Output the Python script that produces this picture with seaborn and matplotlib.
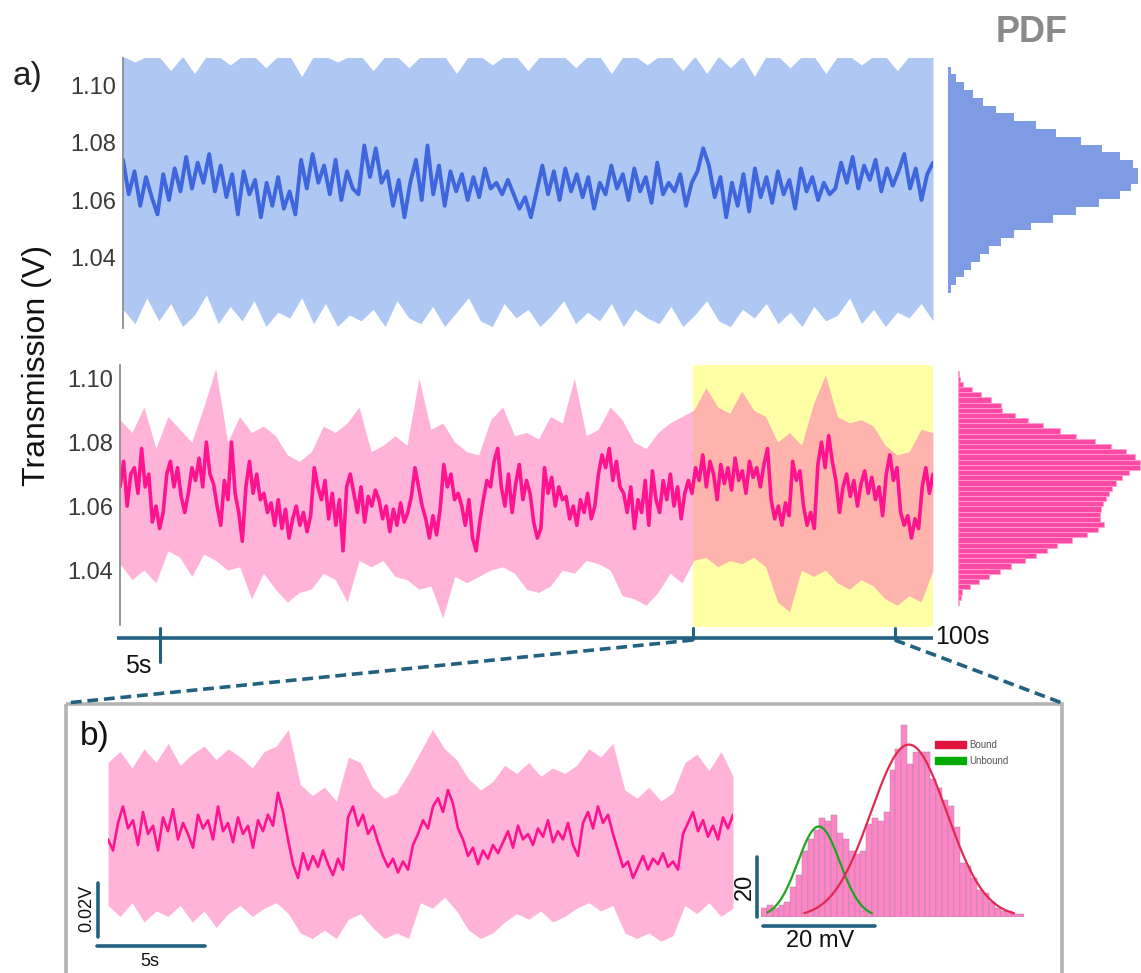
import numpy as np
import pandas as pd
import matplotlib
matplotlib.use("Agg")
import matplotlib.pyplot as plt
from matplotlib.patches import Patch, Rectangle
import seaborn as sns

sns.set_theme(style="white")
plt.rcParams['font.family'] = ['Liberation Sans', 'DejaVu Sans']

# ---------------- data ----------------
# a) top trace (blue), smoothed signal, volts, 0..100 s
blue_trace = [
    1.074, 1.062, 1.070, 1.058, 1.068, 1.061, 1.055,
    1.069, 1.060, 1.071, 1.063,
    1.075, 1.064, 1.073, 1.066, 1.076, 1.063, 1.072,
    1.061, 1.069, 1.055, 1.070, 1.062, 1.067,
    1.054, 1.066, 1.058, 1.068, 1.057, 1.063, 1.055,
    1.074, 1.064, 1.076, 1.066,
    1.072, 1.062, 1.074, 1.060, 1.070, 1.064, 1.062,
    1.079, 1.068, 1.078, 1.066,
    1.070, 1.058, 1.067, 1.054,
    1.066, 1.074, 1.060, 1.079, 1.062, 1.072, 1.058, 1.070,
    1.063, 1.069, 1.060, 1.068, 1.061, 1.071, 1.064, 1.066, 1.062, 1.067,
    1.062, 1.057, 1.061, 1.054, 1.063,
    1.072, 1.062, 1.070, 1.060, 1.071, 1.063, 1.069, 1.061, 1.068, 1.057, 1.066, 1.062,
    1.072, 1.064, 1.069, 1.060, 1.071, 1.063, 1.068, 1.059, 1.073, 1.062, 1.066,
    1.063, 1.069, 1.058, 1.066, 1.070,
    1.078, 1.072,
    1.061, 1.068, 1.054, 1.066, 1.058, 1.069, 1.056,
    1.071, 1.061, 1.068, 1.059, 1.070, 1.062, 1.067, 1.057, 1.071, 1.063, 1.068, 1.060, 1.066, 1.062, 1.064,
    1.073, 1.066, 1.075, 1.064, 1.072, 1.067, 1.074, 1.063, 1.071, 1.065, 1.070,
    1.076, 1.064, 1.071, 1.060, 1.069, 1.073,
]
# raw signal envelope (blue)
blue_upper = [
    1.110, 1.108, 1.110, 1.110, 1.105, 1.110, 1.104, 1.110, 1.110, 1.107, 1.110, 1.110,
    1.106, 1.110, 1.110, 1.103, 1.110, 1.110, 1.108, 1.110, 1.110, 1.105, 1.110, 1.110,
    1.106, 1.110, 1.110, 1.110, 1.104, 1.110, 1.110, 1.107, 1.110, 1.110, 1.105, 1.110,
    1.110, 1.110, 1.106, 1.110, 1.110, 1.104, 1.110, 1.110, 1.107, 1.110, 1.110, 1.105,
    1.110, 1.104, 1.110, 1.106, 1.110, 1.103, 1.110, 1.110, 1.106, 1.110, 1.110, 1.104,
    1.110, 1.110, 1.107, 1.110, 1.110, 1.105, 1.110, 1.110, 1.110,
]
blue_lower = [
    1.022, 1.017, 1.026, 1.018, 1.024, 1.016, 1.020, 1.027, 1.017, 1.023, 1.018, 1.025,
    1.016, 1.021, 1.019, 1.026, 1.017, 1.024, 1.016, 1.020, 1.018, 1.022, 1.016, 1.025,
    1.019, 1.017, 1.023, 1.016, 1.021, 1.026, 1.018, 1.016, 1.024, 1.019, 1.022, 1.016,
    1.020, 1.025, 1.017, 1.021, 1.018, 1.024, 1.016, 1.022, 1.019, 1.017, 1.023, 1.016,
    1.020, 1.025, 1.018, 1.016, 1.022, 1.019, 1.024, 1.017, 1.021, 1.016, 1.023, 1.018,
    1.020, 1.026, 1.017, 1.022, 1.016, 1.021, 1.019, 1.024, 1.018,
]
# a) bottom trace (pink)
pink_trace = [
    1.066, 1.074, 1.060, 1.070,
    1.072, 1.064, 1.078, 1.066, 1.070, 1.055,
    1.060, 1.053, 1.058,
    1.070, 1.074, 1.066, 1.072, 1.063,
    1.058, 1.064,
    1.072, 1.068, 1.075, 1.066, 1.080, 1.070, 1.067,
    1.060, 1.054,
    1.068, 1.062, 1.080, 1.064,
    1.058, 1.049,
    1.066, 1.074, 1.064, 1.070, 1.062,
    1.064, 1.058, 1.061, 1.054, 1.062, 1.053, 1.059, 1.050, 1.056, 1.060, 1.054, 1.058, 1.052, 1.057,
    1.072, 1.066, 1.062, 1.068, 1.056, 1.064, 1.054,
    1.062, 1.046, 1.066,
    1.070, 1.064, 1.058, 1.066, 1.055, 1.063, 1.060, 1.065,
    1.062, 1.056, 1.060, 1.052, 1.059, 1.054, 1.061, 1.055, 1.058, 1.063,
    1.072, 1.066, 1.060,
    1.056, 1.050, 1.057, 1.051, 1.059,
    1.073, 1.066, 1.070, 1.062, 1.064,
    1.060, 1.054, 1.062, 1.050, 1.046, 1.055,
    1.062, 1.068, 1.066, 1.074, 1.078, 1.066,
    1.060, 1.070, 1.058, 1.067,
    1.073, 1.062, 1.068, 1.064,
    1.055, 1.050, 1.053,
    1.072, 1.064, 1.069, 1.060, 1.066, 1.062,
    1.063, 1.056, 1.060, 1.054, 1.062,
    1.058, 1.064, 1.056, 1.060,
    1.070, 1.076, 1.072, 1.078, 1.068, 1.074, 1.066,
    1.064, 1.058, 1.066, 1.053, 1.062, 1.058, 1.068, 1.054, 1.071, 1.062,
    1.058, 1.068, 1.062, 1.070, 1.060, 1.066, 1.056, 1.064, 1.068,
    1.064, 1.072, 1.068, 1.076, 1.066, 1.074, 1.070, 1.062, 1.073, 1.067, 1.072,
    1.065, 1.075, 1.068, 1.071, 1.064, 1.074, 1.069, 1.072, 1.066, 1.073, 1.078,
    1.062, 1.056, 1.060, 1.054, 1.061, 1.057,
    1.074, 1.068, 1.071,
    1.060, 1.054, 1.058, 1.053,
    1.073, 1.080, 1.072, 1.082, 1.074, 1.068,
    1.058, 1.066, 1.070, 1.063, 1.068, 1.060, 1.067, 1.071, 1.064, 1.069, 1.062, 1.066, 1.057,
    1.070, 1.076, 1.068, 1.072,
    1.058, 1.054, 1.057, 1.050, 1.056, 1.053,
    1.066, 1.072, 1.064, 1.070,
]
pink_upper = [
    1.087, 1.083, 1.091, 1.078, 1.088, 1.084, 1.080, 1.091, 1.103, 1.080, 1.088, 1.083,
    1.085, 1.082, 1.076, 1.074, 1.077, 1.085, 1.083, 1.086, 1.091, 1.077, 1.079, 1.082,
    1.079, 1.100, 1.084, 1.086, 1.080, 1.077, 1.076, 1.087, 1.091, 1.082, 1.083, 1.081,
    1.088, 1.086, 1.100, 1.082, 1.084, 1.091, 1.087, 1.080, 1.078, 1.083, 1.086, 1.088,
    1.090, 1.097, 1.091, 1.089, 1.096, 1.090, 1.088, 1.080, 1.083, 1.079, 1.092, 1.101,
    1.088, 1.086, 1.087, 1.085, 1.079, 1.076, 1.077, 1.084, 1.083,
]
pink_lower = [
    1.042, 1.037, 1.040, 1.036, 1.046, 1.044, 1.038, 1.045, 1.043, 1.040, 1.041, 1.031,
    1.039, 1.034, 1.030, 1.033, 1.034, 1.039, 1.037, 1.030, 1.043, 1.041, 1.043, 1.038,
    1.037, 1.034, 1.035, 1.025, 1.038, 1.036, 1.038, 1.040, 1.041, 1.039, 1.034, 1.033,
    1.035, 1.040, 1.039, 1.043, 1.042, 1.040, 1.032, 1.031, 1.029, 1.033, 1.039, 1.036,
    1.043, 1.044, 1.041, 1.043, 1.042, 1.044, 1.041, 1.030, 1.027, 1.040, 1.038, 1.040,
    1.036, 1.034, 1.037, 1.035, 1.031, 1.029, 1.032, 1.030, 1.040,
]
# PDFs (bin widths, listed from low voltage to high voltage)
blue_pdf = [10, 25, 48, 70, 97, 123, 158, 198, 250, 315, 383, 453, 515, 550, 570,
            570, 555, 517, 463, 398, 325, 263, 198, 145, 105, 75, 48, 25, 10]
blue_pdf_range = (1.0277, 1.1064)
pink_pdf = [3, 8, 13, 35, 63, 93, 125, 158, 200, 235, 267, 298, 343, 387, 420,
            437, 427, 427, 430, 435, 445, 453, 463, 475, 493, 513, 547, 547, 530, 505,
            460, 412, 355, 305, 255, 210, 170, 133, 130, 100, 70, 43, 15, 7, 3]
pink_pdf_range = (1.0291, 1.1021)

yticks = [1.04, 1.06, 1.08, 1.10]
ytick_labels = ["1.04", "1.06", "1.08", "1.10"]
zoom_window = (70.5, 100.0)   # yellow highlighted window (s)
time_marks = [4.9, 70.5, 95.3]  # timeline ticks (s)

# b) zoomed trace
b_trace = [
    1.064, 1.060, 1.070, 1.076, 1.068, 1.071, 1.062, 1.074, 1.066, 1.069, 1.060, 1.072,
    1.067, 1.075, 1.064, 1.070, 1.066, 1.061, 1.073, 1.068, 1.071, 1.064, 1.076, 1.067,
    1.070, 1.063, 1.072, 1.066, 1.069, 1.061, 1.071, 1.067, 1.073, 1.069, 1.081, 1.074,
    1.064, 1.055, 1.050,
    1.059, 1.053, 1.058, 1.054, 1.060, 1.055, 1.051, 1.057, 1.053,
    1.072, 1.076, 1.069, 1.073,
    1.066, 1.069, 1.063,
    1.058, 1.054, 1.057, 1.052, 1.056, 1.053,
    1.062, 1.066, 1.071, 1.068,
    1.076, 1.079, 1.074, 1.082, 1.077,
    1.068, 1.064,
    1.058, 1.061, 1.055, 1.060, 1.057, 1.062, 1.059,
    1.063, 1.067, 1.061, 1.069, 1.064, 1.066, 1.062, 1.068, 1.065, 1.071, 1.063, 1.067,
    1.064, 1.070, 1.062, 1.058,
    1.070, 1.074, 1.068, 1.076, 1.070, 1.073, 1.066,
    1.060, 1.054,
    1.056, 1.050, 1.054, 1.058, 1.053, 1.057, 1.055, 1.059, 1.054, 1.056, 1.053,
    1.066, 1.070, 1.074, 1.067, 1.071, 1.065, 1.069, 1.064, 1.072, 1.068, 1.073,
]
b_upper = [
    1.092, 1.096, 1.090, 1.097, 1.092, 1.099, 1.091, 1.095, 1.098, 1.093, 1.097, 1.094,
    1.090, 1.096, 1.098, 1.104, 1.084, 1.080, 1.083, 1.078, 1.094, 1.092, 1.083, 1.079,
    1.081, 1.088, 1.096, 1.104, 1.097, 1.093, 1.086, 1.082, 1.085, 1.091, 1.088, 1.092,
    1.087, 1.090, 1.088, 1.091, 1.097, 1.094, 1.099, 1.082, 1.079, 1.083, 1.078, 1.081,
    1.092, 1.095, 1.089, 1.096, 1.087,
]
b_lower = [
    1.040, 1.036, 1.041, 1.034, 1.038, 1.036, 1.040, 1.034, 1.038, 1.032, 1.037, 1.040,
    1.036, 1.039, 1.041, 1.037, 1.030, 1.028, 1.031, 1.028, 1.035, 1.037, 1.032, 1.028,
    1.030, 1.028, 1.041, 1.039, 1.043, 1.038, 1.031, 1.028, 1.030, 1.034, 1.037, 1.035,
    1.038, 1.034, 1.036, 1.039, 1.041, 1.038, 1.040, 1.030, 1.028, 1.030, 1.027, 1.029,
    1.040, 1.037, 1.041, 1.036, 1.039,
]
# b) histogram counts per bin and Gaussian fits (amplitude, centre, sigma in bin units)
b_hist = [3, 4, 3, 4, 5, 10, 14, 22, 26, 29, 33, 32, 34, 28, 26, 22, 21, 22, 31, 33, 32,
          35, 49, 56, 64, 51, 55, 55, 55, 46, 43, 39, 37, 30, 18, 17, 13, 9, 8, 5, 3, 2, 2, 1, 1]
fit_unbound = (30.2, 9.4, 3.6)
fit_bound = (57.5, 24.8, 6.5)
fit_labels = ["Bound", "Unbound"]

# ---------------- styling ----------------
W, H = 1141, 973
BLUE_LIGHT = "#aec8f3"
BLUE_DARK = "#3f66dd"
BLUE_PDF = "#7e9be3"
PINK_BASE = "#ff69b4"
PINK_DARK = "#ff1490"
PINK_PDF = "#ff4aa5"
YELLOW = "#ffffa6"
TEAL = "#22617f"
TXT = "#3a3a3a"

fig = plt.figure(figsize=(W / 100, H / 100), dpi=100)
fig.patch.set_facecolor("white")


def px_axes(x0, y0, x1, y1, **kw):
    ax = fig.add_axes([x0 / W, 1 - y1 / H, (x1 - x0) / W, (y1 - y0) / H], **kw)
    ax.set_facecolor("none")
    return ax


def style_trace_axes(ax, ylim):
    ax.set_xlim(0, 100)
    ax.set_ylim(*ylim)
    for s in ["top", "right", "bottom"]:
        ax.spines[s].set_visible(False)
    ax.spines["left"].set_color("#8c8c8c")
    ax.spines["left"].set_linewidth(1.3)
    ax.set_xticks([])
    ax.set_yticks(yticks, ytick_labels)
    ax.tick_params(axis="y", length=0, labelsize=17, colors=TXT, pad=5)
    ax.set_xlabel("")
    ax.set_ylabel("")


def hist_frame(weights, lo, hi):
    edges = np.linspace(lo, hi, len(weights) + 1)
    centers = (edges[:-1] + edges[1:]) / 2
    return pd.DataFrame({"v": centers, "w": np.asarray(weights, float)}), [float(e) for e in edges]


# overlay for annotations (pixel coordinates)
ov = fig.add_axes([0, 0, 1, 1], zorder=-1)
ov.set_xlim(0, W)
ov.set_ylim(H, 0)
ov.axis("off")

# ---- a) top panel ----
ax1 = px_axes(123, 58, 933, 328)
t_env = np.linspace(0, 100, len(blue_upper))
ax1.fill_between(t_env, blue_lower, blue_upper, color=BLUE_LIGHT, lw=0, zorder=1)
sns.lineplot(x=np.linspace(0, 100, len(blue_trace)), y=blue_trace, ax=ax1,
             color=BLUE_DARK, lw=2.8, zorder=2)
style_trace_axes(ax1, (1.0155, 1.1094))

ax1p = px_axes(948, 58, 1141, 328)
df_b, edges_b = hist_frame(blue_pdf, *blue_pdf_range)
sns.histplot(data=df_b, y="v", weights="w", bins=edges_b, ax=ax1p, color=BLUE_PDF,
             alpha=1, edgecolor=BLUE_PDF, linewidth=0)
ax1p.set_ylim(1.0155, 1.1094)
ax1p.set_xlim(0, 579)
ax1p.axis("off")

# ---- a) bottom panel ----
ax2 = px_axes(120, 365, 933, 627)
ax2.axvspan(*zoom_window, color=YELLOW, lw=0, zorder=0)
t_env2 = np.linspace(0, 100, len(pink_upper))
ax2.fill_between(t_env2, pink_lower, pink_upper, color=PINK_BASE, alpha=0.5, lw=0, zorder=1)
sns.lineplot(x=np.linspace(0, 100, len(pink_trace)), y=pink_trace, ax=ax2,
             color=PINK_DARK, lw=2.6, zorder=2)
style_trace_axes(ax2, (1.0222, 1.1041))
ax2.spines["left"].set_bounds(1.0228, 1.1041)

ax2p = px_axes(958, 365, 1141, 627)
df_p, edges_p = hist_frame(pink_pdf, *pink_pdf_range)
sns.histplot(data=df_p, y="v", weights="w", bins=edges_p, ax=ax2p, color=PINK_PDF,
             alpha=1, edgecolor="#ff9fcf", linewidth=0.6)
ax2p.set_ylim(1.0222, 1.1041)
ax2p.set_xlim(0, 549)
ax2p.axis("off")

# ---- texts of panel a ----
ov.text(27, 76, "a)", fontsize=24, color="#222222", ha="center", va="center")
ov.text(1032, 32, "PDF", fontsize=26, fontweight="bold", color="#8a8a8a",
        ha="center", va="center")
ov.text(37, 366, "Transmission (V)", fontsize=23, color="#111111", rotation=90,
        ha="center", va="center")

# ---- timeline (maps 0..100 s onto the bottom trace width) ----
def tx(t):
    return 120 + (933 - 120) * t / 100.0

ov.plot([117, 933], [638, 638], color=TEAL, lw=2.6, solid_capstyle="butt")
ov.plot([tx(time_marks[0])] * 2, [628, 662], color=TEAL, lw=2.2)
ov.plot([tx(time_marks[1])] * 2, [628, 639], color=TEAL, lw=2.2)
ov.plot([tx(time_marks[2])] * 2, [628, 639], color=TEAL, lw=2.2)
ov.text(138, 666, "5s", fontsize=18, color="#111111", ha="center", va="center")
ov.text(935, 637, "100s", fontsize=18, color="#111111", ha="left", va="center")
ov.plot([tx(time_marks[1]), 66], [640, 703], color=TEAL, lw=2.6, ls=(0, (3, 1.6)))
ov.plot([tx(time_marks[2]), 1062], [640, 703], color=TEAL, lw=2.6, ls=(0, (3, 1.6)))

# ---- panel b frame ----
ov.add_patch(Rectangle((66, 704), 1062 - 66, 300, fill=False, ec="#b4b4b4", lw=2.6))
ov.text(95, 737, "b)", fontsize=24, color="#111111", ha="center", va="center")

# ---- b) zoomed trace ----
ax3 = px_axes(108, 727, 733, 950)
nb = len(b_trace) - 1
ax3.fill_between(np.linspace(0, nb, len(b_upper)), b_lower, b_upper,
                 color=PINK_BASE, alpha=0.5, lw=0, zorder=1)
sns.lineplot(x=np.arange(len(b_trace)), y=b_trace, ax=ax3, color=PINK_DARK, lw=1.9, zorder=2)
ax3.set_xlim(0, nb)
ax3.set_ylim(1.0238, 1.1049)
ax3.axis("off")

# scale bars of b) trace
ov.plot([98, 98], [883, 937], color=TEAL, lw=2.6)
ov.text(87, 908, "0.02V", fontsize=13, rotation=90, ha="center", va="center", color="#111111")
ov.plot([97, 205], [946, 946], color=TEAL, lw=2.6)
ov.text(150, 962, "5s", fontsize=13, ha="center", va="center", color="#111111")

# ---- b) histogram ----
ax4 = px_axes(761, 720, 1024, 917)
nbins = len(b_hist)
df_h = pd.DataFrame({"bin": np.arange(nbins, dtype=float), "count": np.asarray(b_hist, float)})
sns.histplot(data=df_h, x="bin", weights="count", bins=[float(e) for e in np.arange(nbins + 1) - 0.5],
             ax=ax4, color="#ff86c6", alpha=1, edgecolor="#a58aa8", linewidth=0.35)
xg = np.linspace(0.6, 18.5, 200)
a_u, m_u, s_u = fit_unbound
sns.lineplot(x=xg, y=a_u * np.exp(-0.5 * ((xg - m_u) / s_u) ** 2), ax=ax4,
             color="#1fa524", lw=1.6)
xr = np.linspace(6.9, 42.8, 300)
a_b, m_b, s_b = fit_bound
sns.lineplot(x=xr, y=a_b * np.exp(-0.5 * ((xr - m_b) / s_b) ** 2), ax=ax4,
             color="#e02a50", lw=1.6)
ax4.set_xlim(-0.5, nbins - 0.5)
ax4.set_ylim(0, 65.7)
ax4.axis("off")
handles = [Patch(color="#e0143c"), Patch(color="#00aa00")]
ax4.legend(handles, fit_labels, loc="upper left", bbox_to_anchor=(935 / W, 1 - 740 / H),
           bbox_transform=fig.transFigure, frameon=False, fontsize=7, labelcolor="#555555",
           handlelength=3.2, handleheight=0.75, handletextpad=0.3, borderpad=0,
           borderaxespad=0, labelspacing=0.6)

# scale bars of histogram
ov.plot([757, 757], [857, 917], color=TEAL, lw=2.6)
ov.text(745, 887, "20", fontsize=17, rotation=90, ha="center", va="center", color="#111111")
ov.plot([763, 875], [926, 926], color=TEAL, lw=2.6)
ov.text(820, 941, "20 mV", fontsize=17, ha="center", va="center", color="#111111")

fig.savefig("out.png", dpi=100, facecolor="white")
